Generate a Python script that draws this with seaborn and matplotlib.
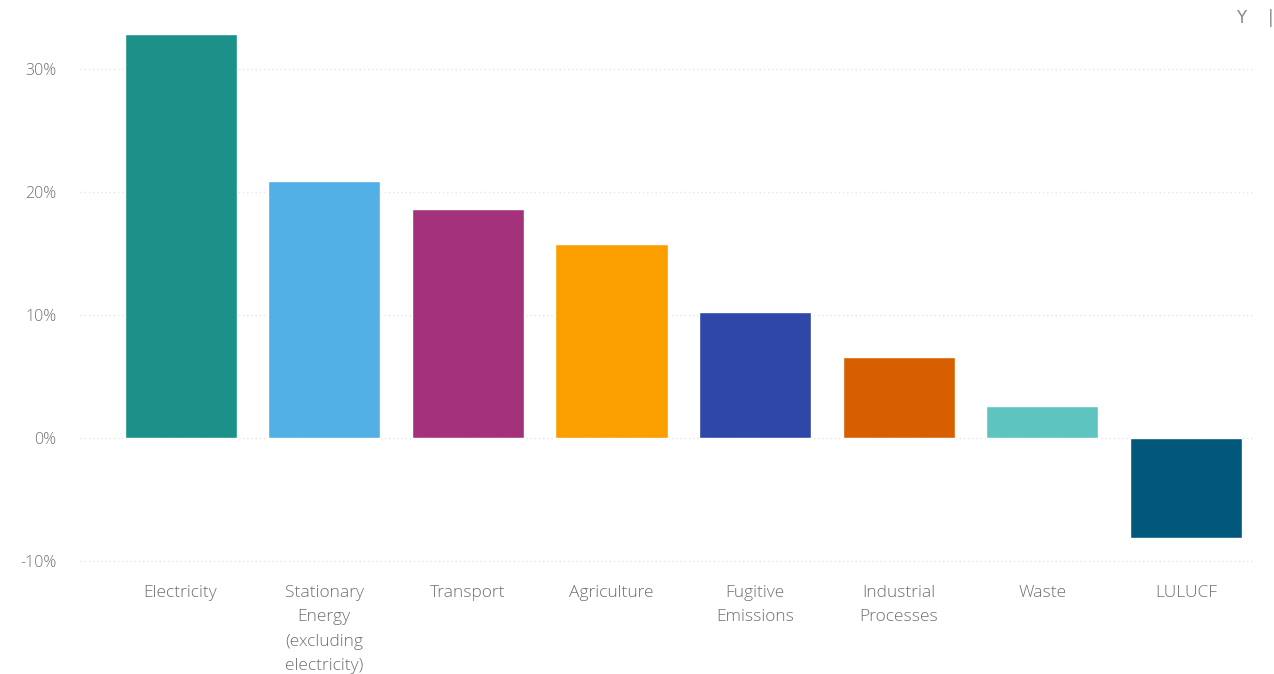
import matplotlib
matplotlib.use("Agg")
import matplotlib.pyplot as plt
import seaborn as sns
import pandas as pd
from matplotlib.ticker import FuncFormatter

# Share of emissions change by sector (%)
sectors = [
    "Electricity",
    "Stationary\nEnergy\n(excluding\nelectricity)",
    "Transport",
    "Agriculture",
    "Fugitive\nEmissions",
    "Industrial\nProcesses",
    "Waste",
    "LULUCF",
]
shares = [32.9, 20.9, 18.6, 15.8, 10.3, 6.6, 2.6, -8.1]
colors = ["#1b9189", "#52b0e6", "#a3327b", "#fb9f00",
          "#2f48a8", "#d75f00", "#5ec4bf", "#02587a"]
y_ticks = [-10, 0, 10, 20, 30]

sns.set_theme(style="white")
plt.rcParams["font.family"] = ["Open Sans", "DejaVu Sans"]

df = pd.DataFrame({"sector": sectors, "share": shares})

fig = plt.figure(figsize=(12.74, 6.74), dpi=100)
ax = fig.add_axes([80 / 1274, 1 - 570 / 674, (1255 - 80) / 1274, 550 / 674])

sns.barplot(data=df, x="sector", y="share", hue="sector", palette=colors,
            width=0.78, legend=False, ax=ax, saturation=1, zorder=3)

ax.set_xlim(-0.70, 7.48)
ax.set_ylim(-10.7, 34)
ax.set_yticks(y_ticks)
ax.yaxis.set_major_formatter(FuncFormatter(lambda v, _: f"{v:.0f}%"))
ax.grid(axis="y", color="#e6e6e6", linestyle=(0, (1, 2)), linewidth=1, zorder=0)
for s in ax.spines.values():
    s.set_visible(False)
ax.set_xlabel("")
ax.set_ylabel("")
ax.tick_params(axis="y", length=0, pad=17, labelsize=11.5, labelcolor="#707070")
ax.tick_params(axis="x", length=0, pad=11, labelsize=12.5, labelcolor="#707070")
for lbl in ax.get_yticklabels():
    lbl.set_horizontalalignment("right")
    lbl.set_fontweight("light")
for lbl in ax.get_xticklabels():
    lbl.set_verticalalignment("top")
    lbl.set_linespacing(1.68)
    lbl.set_fontweight("light")

# toolbar glyphs at top right
fig.text(1241 / 1274, 1 - 18 / 674, "Y", ha="center", va="center",
         fontsize=12, color="#888888", family="DejaVu Sans")
fig.text(1271 / 1274, 1 - 18 / 674, "|", ha="center", va="center",
         fontsize=12, color="#888888", family="DejaVu Sans")

fig.savefig("out.png", dpi=100, facecolor="white")
